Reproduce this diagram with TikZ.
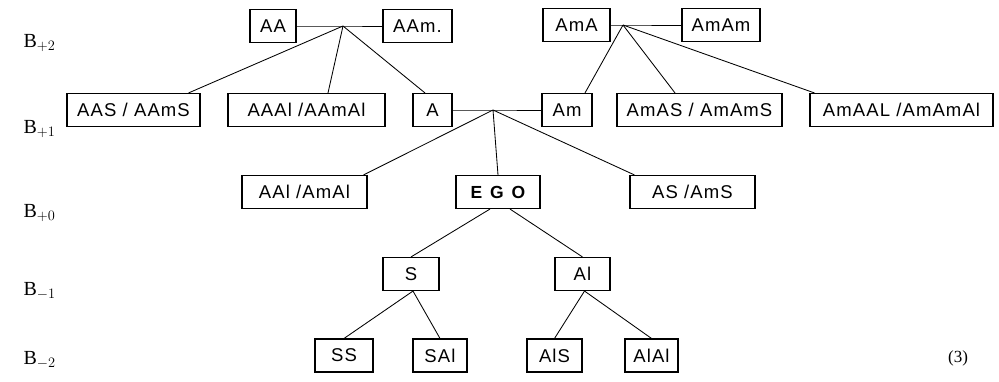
\documentclass[tikz,border=0pt]{standalone}
\usepackage{fontspec}
\setmainfont{Liberation Serif}
\newfontfamily\boxfont[LetterSpace=6]{Liberation Sans}
\newfontfamily\egofont[LetterSpace=45]{Liberation Sans}
\begin{document}
\begin{tikzpicture}[x=1pt,y=-1pt,
  kin/.style={draw, line width=1.1pt, inner sep=0pt, minimum height=33pt,
              font=\boxfont\fontsize{18.5}{18.5}\selectfont},
  link/.style={line width=0.85pt},
  lvl/.style={font=\fontsize{20}{20}\selectfont, anchor=west},
  jn/.style={coordinate}]
\useasboundingbox (0,0) rectangle (999,382);

% generation +2
\node[kin, minimum width=46pt] (AA)   at (273,26)  {AA};
\node[kin, minimum width=69pt] (AAm)  at (417.5,26) {AAm.};
\node[kin, minimum width=67pt] (AmA)  at (576.5,25) {AmA};
\node[kin, minimum width=78pt] (AmAm) at (721,25)  {AmAm};

% generation +1
\node[kin, minimum width=133pt] (AAS)   at (133.5,110) {AAS / AAmS};
\node[kin, minimum width=157pt] (AAAl)  at (306.5,110) {AAAl /AAmAl};
\node[kin, minimum width=39pt]  (A)     at (432.5,110) {A};
\node[kin, minimum width=50pt]  (Am)    at (567,110)   {Am};
\node[kin, minimum width=165pt] (AmAS)  at (699.5,110) {AmAS / AmAmS};
\node[kin, minimum width=183pt] (AmAAL) at (901.5,110) {AmAAL /AmAmAl};

% generation 0
\node[kin, minimum width=125pt] (AAl) at (304.5,192) {AAl /AmAl};
\node[kin, minimum width=84pt, font=\egofont\bfseries\fontsize{17.5}{17.5}\selectfont] (EGO) at (498,192) {EGO};
\node[kin, minimum width=125pt] (AS)  at (692.5,192) {AS /AmS};

% generation -1
\node[kin, minimum width=56pt] (S)  at (411,274)   {S};
\node[kin, minimum width=55pt] (Al) at (582.5,274) {Al};

% generation -2
\node[kin, minimum width=58pt] (SS)   at (344,355.5)   {SS};
\node[kin, minimum width=54pt] (SAl)  at (440,355.5)   {SAl};
\node[kin, minimum width=55pt] (AlS)  at (554.5,355.5) {AlS};
\node[kin, minimum width=53pt] (AlAl) at (651.5,355.5) {AlAl};

% junctions of the couples
\node[jn] (j1) at (343,26) {};
\node[jn] (j2) at (623,25) {};
\node[jn] (j3) at (493,110) {};

% couple AA -- AAm and its children
\draw[link] (AA.east) -- (j1) -- (AAm.west);
\draw[link] (j1) -- ([xshift=-12pt]AAS.north east);
\draw[link] (j1) -- ([xshift=21.5pt]AAAl.north);
\draw[link] (j1) -- ([xshift=-7.5pt]A.north);

% couple AmA -- AmAm and its children
\draw[link] (AmA.east) -- (j2) -- (AmAm.west);
\draw[link] (j2) -- ([xshift=18pt]Am.north);
\draw[link] (j2) -- ([xshift=-24.5pt]AmAS.north);
\draw[link] (j2) -- ([xshift=5pt]AmAAL.north west);

% couple A -- Am and its children
\draw[link] (A.east) -- (j3) -- (Am.west);
\draw[link] (j3) -- ([xshift=-4pt]AAl.north east);
\draw[link] (j3) -- (EGO.north);
\draw[link] (j3) -- ([xshift=5pt]AS.north west);

% descendants
\draw[link] ([xshift=-8pt]EGO.south) -- (S.north);
\draw[link] ([xshift=12pt]EGO.south) -- (Al.north);
\draw[link] ([xshift=2pt]S.south) -- (SS.north);
\draw[link] ([xshift=2pt]S.south) -- (SAl.north);
\draw[link] ([xshift=2pt]Al.south) -- (AlS.north);
\draw[link] ([xshift=2pt]Al.south) -- (AlAl.north);

% generation labels
\node[lvl] (b2)  at (20,43)  {B$_{+2}$};
\node[lvl] (b1)  at (20,129) {B$_{+1}$};
\node[lvl] (b0)  at (20,213) {B$_{+0}$};
\node[lvl] (bm1) at (20,291) {B$_{-1}$};
\node[lvl] (bm2) at (20,360) {B$_{-2}$};

\node[font=\fontsize{17}{17}\selectfont] (num) at (958,358) {(3)};
\end{tikzpicture}
\end{document}
